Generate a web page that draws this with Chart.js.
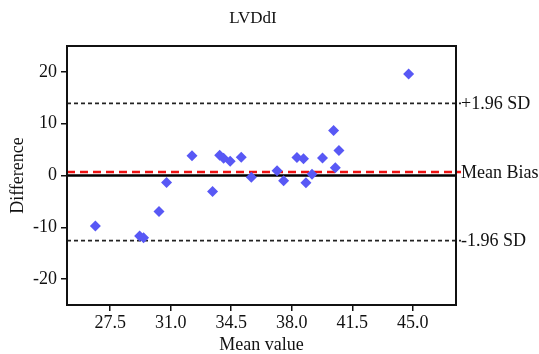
<!DOCTYPE html>
<html><head><meta charset="utf-8">
<script src="https://cdn.jsdelivr.net/npm/chart.js@4/dist/chart.umd.min.js"></script>
<style>html,body{margin:0;padding:0;background:#fff}#wrap{width:539px;height:354px}</style>
</head><body><div id="wrap"><canvas id="c" width="539" height="354"></canvas></div>
<script>
const titleText = "LVDdI";
const meanVals = [26.64, 29.2, 29.43, 30.32, 30.76, 32.23, 33.42, 33.83, 34.06, 34.44, 35.08, 35.66, 37.15, 37.53, 38.3, 38.68, 38.82, 39.17, 39.78, 40.42, 40.52, 40.73, 44.76];
const diffVals = [-9.77, -11.7, -12.0, -6.94, -1.35, 3.79, -3.08, 3.91, 3.33, 2.76, 3.53, -0.33, 0.9, -1.03, 3.47, 3.21, -1.42, 0.26, 3.4, 8.67, 1.48, 4.82, 19.6];
const xTicks = [27.5, 31.0, 34.5, 38.0, 41.5, 45.0];
const yTicks = [-20, -10, 0, 10, 20];
const upperSD = 13.93;
const meanBias = 0.67;
const lowerSD = -12.58;
const refLabels = ["+1.96 SD", "Mean Bias", "-1.96 SD"];

const FONT = "'Liberation Serif', 'Times New Roman', serif";

const overlay = {
  id: 'overlay',
  beforeDatasetsDraw(chart) {
    const ctx = chart.ctx, a = chart.chartArea, ys = chart.scales.y;
    ctx.save();
    let y0 = ys.getPixelForValue(0);
    ctx.strokeStyle = '#000'; ctx.lineWidth = 2.5; ctx.setLineDash([]);
    ctx.beginPath(); ctx.moveTo(a.left, y0); ctx.lineTo(a.right, y0); ctx.stroke();
    ctx.lineWidth = 1.6; ctx.strokeStyle = '#222'; ctx.setLineDash([4, 3]);
    [upperSD, lowerSD].forEach(v => {
      const y = ys.getPixelForValue(v);
      ctx.beginPath(); ctx.moveTo(a.left, y); ctx.lineTo(a.right + 5, y); ctx.stroke();
    });
    const ym = ys.getPixelForValue(meanBias);
    ctx.strokeStyle = '#ee1111'; ctx.lineWidth = 2.6; ctx.setLineDash([8, 5]);
    ctx.beginPath(); ctx.moveTo(a.left, ym); ctx.lineTo(a.right + 5, ym); ctx.stroke();
    ctx.restore();
  },
  afterDraw(chart) {
    const ctx = chart.ctx, a = chart.chartArea, ys = chart.scales.y;
    ctx.save();
    ctx.setLineDash([]);
    ctx.strokeStyle = '#111'; ctx.lineWidth = 2;
    ctx.strokeRect(a.left, a.top, a.right - a.left, a.bottom - a.top);
    ctx.fillStyle = '#111';
    ctx.font = "18px " + FONT;
    ctx.textBaseline = 'middle'; ctx.textAlign = 'left';
    [upperSD, meanBias, lowerSD].forEach((v, i) => {
      ctx.fillText(refLabels[i], a.right + 5, ys.getPixelForValue(v) + 1);
    });
    ctx.textAlign = 'center';
    ctx.font = "17px " + FONT;
    ctx.fillText(titleText, 253, 19);
    ctx.restore();
  }
};

new Chart(document.getElementById('c'), {
  type: 'scatter',
  data: {
    datasets: [{
      data: meanVals.map((x, i) => ({x: x, y: diffVals[i]})),
      pointStyle: 'rectRot',
      pointRadius: 5.5,
      pointHoverRadius: 5.5,
      backgroundColor: 'rgb(88,88,245)',
      borderWidth: 0
    }]
  },
  options: {
    responsive: false,
    animation: false,
    devicePixelRatio: 1,
    layout: {padding: {top: 46, right: 83, left: 0, bottom: 0}},
    plugins: {legend: {display: false}, tooltip: {enabled: false}, title: {display: false}},
    scales: {
      x: {
        type: 'linear', min: 25, max: 47.5,
        afterBuildTicks: s => { s.ticks = xTicks.map(v => ({value: v})); },
        afterFit: s => { s.height = 49; },
        grid: {display: true, drawOnChartArea: false, drawTicks: true, tickLength: 6, color: '#111', lineWidth: 1.5},
        border: {display: true, color: '#111', width: 2},
        ticks: {color: '#111', font: {family: FONT, size: 18}, padding: 1, maxRotation: 0,
          callback: v => Number(v).toFixed(1)},
        title: {display: true, text: 'Mean value', color: '#111', font: {family: FONT, size: 18}, padding: {top: 0, bottom: -2}}
      },
      y: {
        type: 'linear', min: -25, max: 25,
        afterBuildTicks: s => { s.ticks = yTicks.map(v => ({value: v})); },
        afterFit: s => { s.width = 67; },
        grid: {display: true, drawOnChartArea: false, drawTicks: true, tickLength: 6, color: '#111', lineWidth: 1.5},
        border: {display: true, color: '#111', width: 2},
        ticks: {color: '#111', font: {family: FONT, size: 18}, padding: 4},
        title: {display: true, text: 'Difference', color: '#111', font: {family: FONT, size: 18}, padding: {top: 7, bottom: 0}}
      }
    }
  },
  plugins: [overlay]
});
</script></body></html>
